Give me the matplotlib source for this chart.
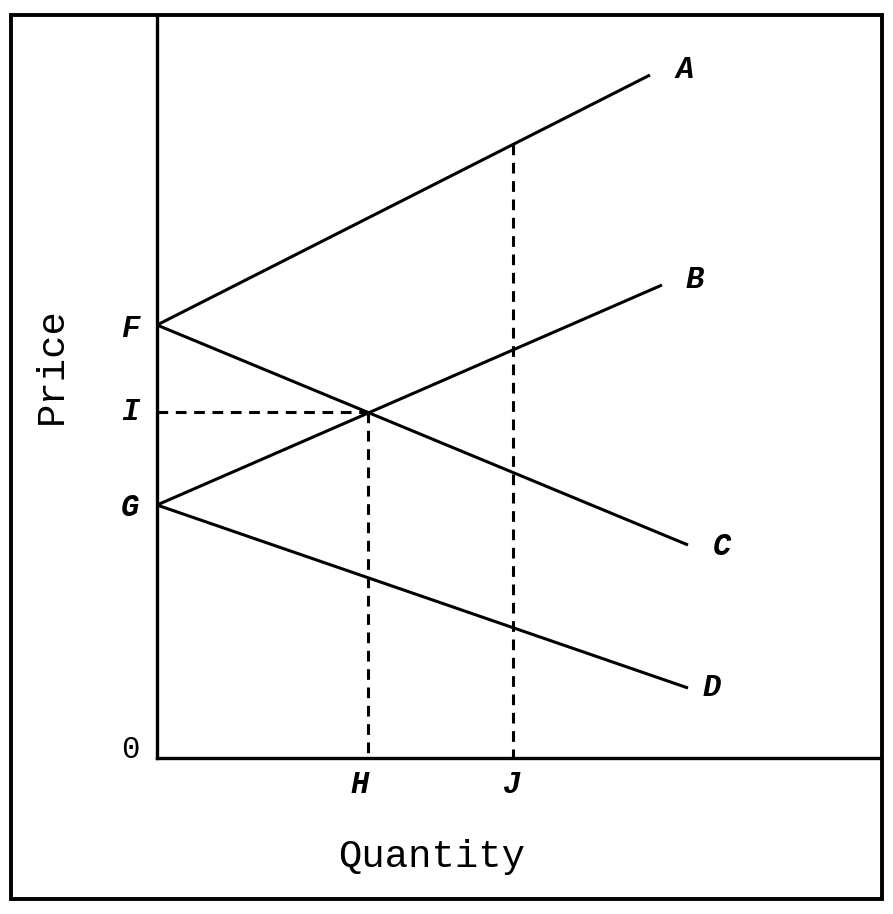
import matplotlib
matplotlib.use("Agg")
import matplotlib.pyplot as plt
from matplotlib.patches import Rectangle

# ---- data (quantity / price units) ----
F = 4.33
G = 2.53
H = 2.11
J = 3.56
line_names = ["A", "B", "C", "D"]
line_start_y = [F, G, F, G]
line_end_x = [4.93, 5.05, 5.31, 5.31]
line_end_y = [6.83, 4.73, 2.13, 0.70]

def val(k, x):
    x0, y0 = 0.0, line_start_y[k]
    x1, y1 = line_end_x[k], line_end_y[k]
    return y0 + (y1 - y0) * (x - x0) / (x1 - x0)

I = val(2, H)          # intersection of B and C at quantity H
J_top = val(0, J)      # line A above J

W, Hpx = 893, 914
fig = plt.figure(figsize=(W / 100, Hpx / 100), dpi=100)
fig.patch.set_facecolor("white")

# outer frame
fig.patches.append(Rectangle((11 / W, 1 - 899 / Hpx), (882 - 11) / W, (899 - 15) / Hpx,
                             transform=fig.transFigure, fill=False, lw=2.8,
                             edgecolor="black", zorder=0))

ax = fig.add_axes([157 / W, 1 - 758 / Hpx, (881 - 157) / W, (758 - 15) / Hpx])
ax.set_xlim(0, 7.24)
ax.set_ylim(0, 7.43)
for s in ["top", "right"]:
    ax.spines[s].set_visible(False)
for s in ["left", "bottom"]:
    ax.spines[s].set_linewidth(2.4)
ax.set_xticks([])
ax.set_yticks([])
ax.patch.set_alpha(0)

for k in range(4):
    ax.plot([0, line_end_x[k]], [line_start_y[k], line_end_y[k]], color="black", lw=2.2,
            solid_capstyle="butt")

dash = dict(color="black", lw=2.2, linestyle=(0, (3.5, 2.5)))
ax.plot([0, H], [I, I], **dash)
ax.plot([H, H], [I, 0], **dash)
ax.plot([J, J], [J_top, 0], **dash)

letter_font = dict(family="Liberation Mono", style="italic", weight="bold", fontsize=22,
                   color="black", ha="center", va="center")
label_offsets = [(0.35, 0.05), (0.33, 0.05), (0.34, -0.02), (0.24, 0.0)]
for k in range(4):
    dx, dy = label_offsets[k]
    ax.text(line_end_x[k] + dx, line_end_y[k] + dy, line_names[k], clip_on=False, **letter_font)

ax.text(-0.27, F - 0.04, "F", clip_on=False, **letter_font)
ax.text(-0.27, I, "I", clip_on=False, **letter_font)
ax.text(-0.27, G - 0.03, "G", clip_on=False, **letter_font)
ax.text(-0.27, 0.08, "0", clip_on=False, family="Liberation Mono", fontsize=22,
        ha="center", va="center")
ax.text(H - 0.08, -0.27, "H", clip_on=False, **letter_font)
ax.text(J - 0.01, -0.27, "J", clip_on=False, **letter_font)

fig.text(52 / W, 1 - 366 / Hpx, "Price", rotation=90, family="Liberation Mono",
         fontsize=28, ha="center", va="center")
fig.text(432 / W, 1 - 857 / Hpx, "Quantity", family="Liberation Mono",
         fontsize=28, ha="center", va="center")

fig.savefig("out.png", dpi=100)
